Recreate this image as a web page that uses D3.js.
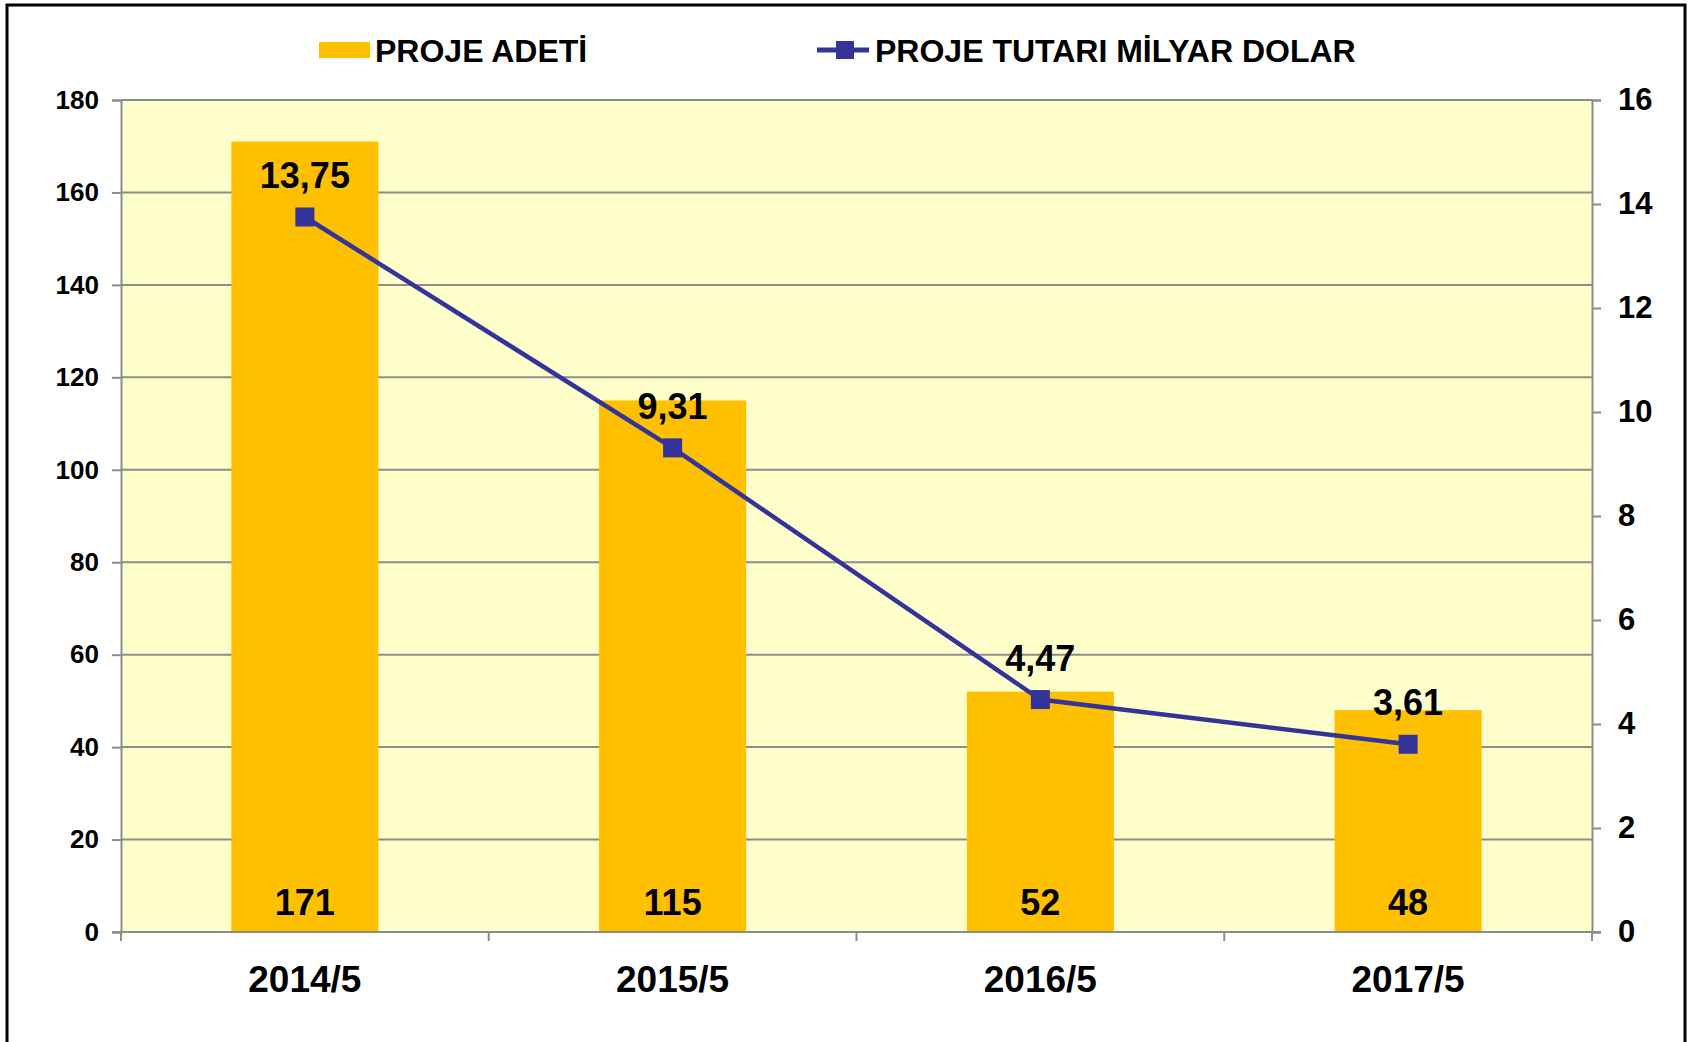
<!DOCTYPE html>
<html><head><meta charset="utf-8">
<script src="https://cdn.jsdelivr.net/npm/d3@7"></script>
<style>
html,body{margin:0;padding:0;background:#fff;}
svg{display:block;font-family:"Liberation Sans",Arial,sans-serif;font-weight:bold;}
</style></head>
<body>
<svg id="chart" width="1692" height="1042"></svg>
<script>
const categories = ["2014/5","2015/5","2016/5","2017/5"];
const projeAdeti = [171,115,52,48];
const projeTutari = [13.75,9.31,4.47,3.61];
const tutariLabels = ["13,75","9,31","4,47","3,61"];
const leftTicks = [0,20,40,60,80,100,120,140,160,180];
const rightTicks = [0,2,4,6,8,10,12,14,16];
const seriesNames = ["PROJE ADETİ","PROJE TUTARI MİLYAR DOLAR"];

const svg = d3.select("#chart");
const L=121, R=1592, T=100, B=932;
const barColor="#FFC000", lineColor="#333399", gridColor="#8c8c8c";

// border
svg.append("rect").attr("x",7).attr("y",5).attr("width",1678).attr("height",1060)
  .attr("fill","#fff").attr("stroke","#000").attr("stroke-width",3);

// plot bg
svg.append("rect").attr("x",L).attr("y",T).attr("width",R-L).attr("height",B-T).attr("fill","#FFFFCC");

const x = d3.scaleBand().domain(categories).range([L,R]).paddingInner(0).paddingOuter(0);
const yL = d3.scaleLinear().domain([0,180]).range([B,T]);
const yR = d3.scaleLinear().domain([0,16]).range([B,T]);

// gridlines
svg.append("g").selectAll("line").data(leftTicks.filter(d=>d>0)).join("line")
  .attr("x1",L).attr("x2",R).attr("y1",d=>yL(d)).attr("y2",d=>yL(d))
  .attr("stroke",gridColor).attr("stroke-width",2);

// bars
const bw = x.bandwidth()*0.4;
svg.append("g").selectAll("rect").data(categories).join("rect")
  .attr("x",(d,i)=>x(d)+x.bandwidth()/2-bw/2)
  .attr("y",(d,i)=>yL(projeAdeti[i]))
  .attr("width",bw)
  .attr("height",(d,i)=>B-yL(projeAdeti[i]))
  .attr("fill",barColor);

// axes
const axL = svg.append("g").attr("transform",`translate(${L},0)`)
  .call(d3.axisLeft(yL).tickValues(leftTicks).tickSize(9).tickPadding(13));
const axR = svg.append("g").attr("transform",`translate(${R},0)`)
  .call(d3.axisRight(yR).tickValues(rightTicks).tickSize(9).tickPadding(17));
const axB = svg.append("g").attr("transform",`translate(0,${B})`)
  .call(d3.axisBottom(x).tickSize(0).tickPadding(0).tickFormat(""));
[axL,axR,axB].forEach(a=>{
  a.select(".domain").attr("stroke",gridColor).attr("stroke-width",2);
  a.selectAll(".tick line").attr("stroke",gridColor).attr("stroke-width",2);
});
axL.selectAll("text").attr("font-size",26).attr("font-weight","bold").attr("fill","#000").attr("font-family","Liberation Sans, Arial, sans-serif");
axR.selectAll("text").attr("font-size",31).attr("font-weight","bold").attr("fill","#000").attr("font-family","Liberation Sans, Arial, sans-serif");
axB.select(".domain").attr("d",`M${L-9},0H${R+9}`);

// category boundary ticks
const bounds = categories.map(c=>x(c)).concat([R]);
svg.append("g").selectAll("line").data(bounds).join("line")
  .attr("x1",d=>d).attr("x2",d=>d).attr("y1",B).attr("y2",B+9)
  .attr("stroke",gridColor).attr("stroke-width",2);

// category labels
svg.append("g").selectAll("text").data(categories).join("text")
  .attr("x",d=>x(d)+x.bandwidth()/2).attr("y",B+60)
  .attr("text-anchor","middle").attr("font-size",37).attr("fill","#000").text(d=>d);

// bar value labels
svg.append("g").selectAll("text").data(categories).join("text")
  .attr("x",d=>x(d)+x.bandwidth()/2).attr("y",B-17)
  .attr("text-anchor","middle").attr("font-size",36).attr("fill","#000")
  .text((d,i)=>projeAdeti[i]);

// line
const line = d3.line().x((d,i)=>x(categories[i])+x.bandwidth()/2).y(d=>yR(d));
svg.append("path").datum(projeTutari).attr("d",line).attr("fill","none")
  .attr("stroke",lineColor).attr("stroke-width",4.5);
const ms=19;
svg.append("g").selectAll("rect").data(projeTutari).join("rect")
  .attr("x",(d,i)=>x(categories[i])+x.bandwidth()/2-ms/2)
  .attr("y",d=>yR(d)-ms/2).attr("width",ms).attr("height",ms).attr("fill",lineColor);
svg.append("g").selectAll("text").data(projeTutari).join("text")
  .attr("x",(d,i)=>x(categories[i])+x.bandwidth()/2).attr("y",d=>yR(d)-29)
  .attr("text-anchor","middle").attr("font-size",36).attr("fill","#000")
  .text((d,i)=>tutariLabels[i]);

// legend
const lg = svg.append("g");
lg.append("rect").attr("x",319).attr("y",42).attr("width",51).attr("height",16).attr("fill",barColor);
lg.append("text").attr("x",375).attr("y",62).attr("font-size",32).attr("fill","#000").text(seriesNames[0]);
lg.append("line").attr("x1",817).attr("x2",869).attr("y1",50).attr("y2",50).attr("stroke",lineColor).attr("stroke-width",5);
lg.append("rect").attr("x",836).attr("y",41).attr("width",18).attr("height",18).attr("fill",lineColor);
lg.append("text").attr("x",875).attr("y",62).attr("font-size",32).attr("fill","#000").text(seriesNames[1]);
</script>
</body></html>
